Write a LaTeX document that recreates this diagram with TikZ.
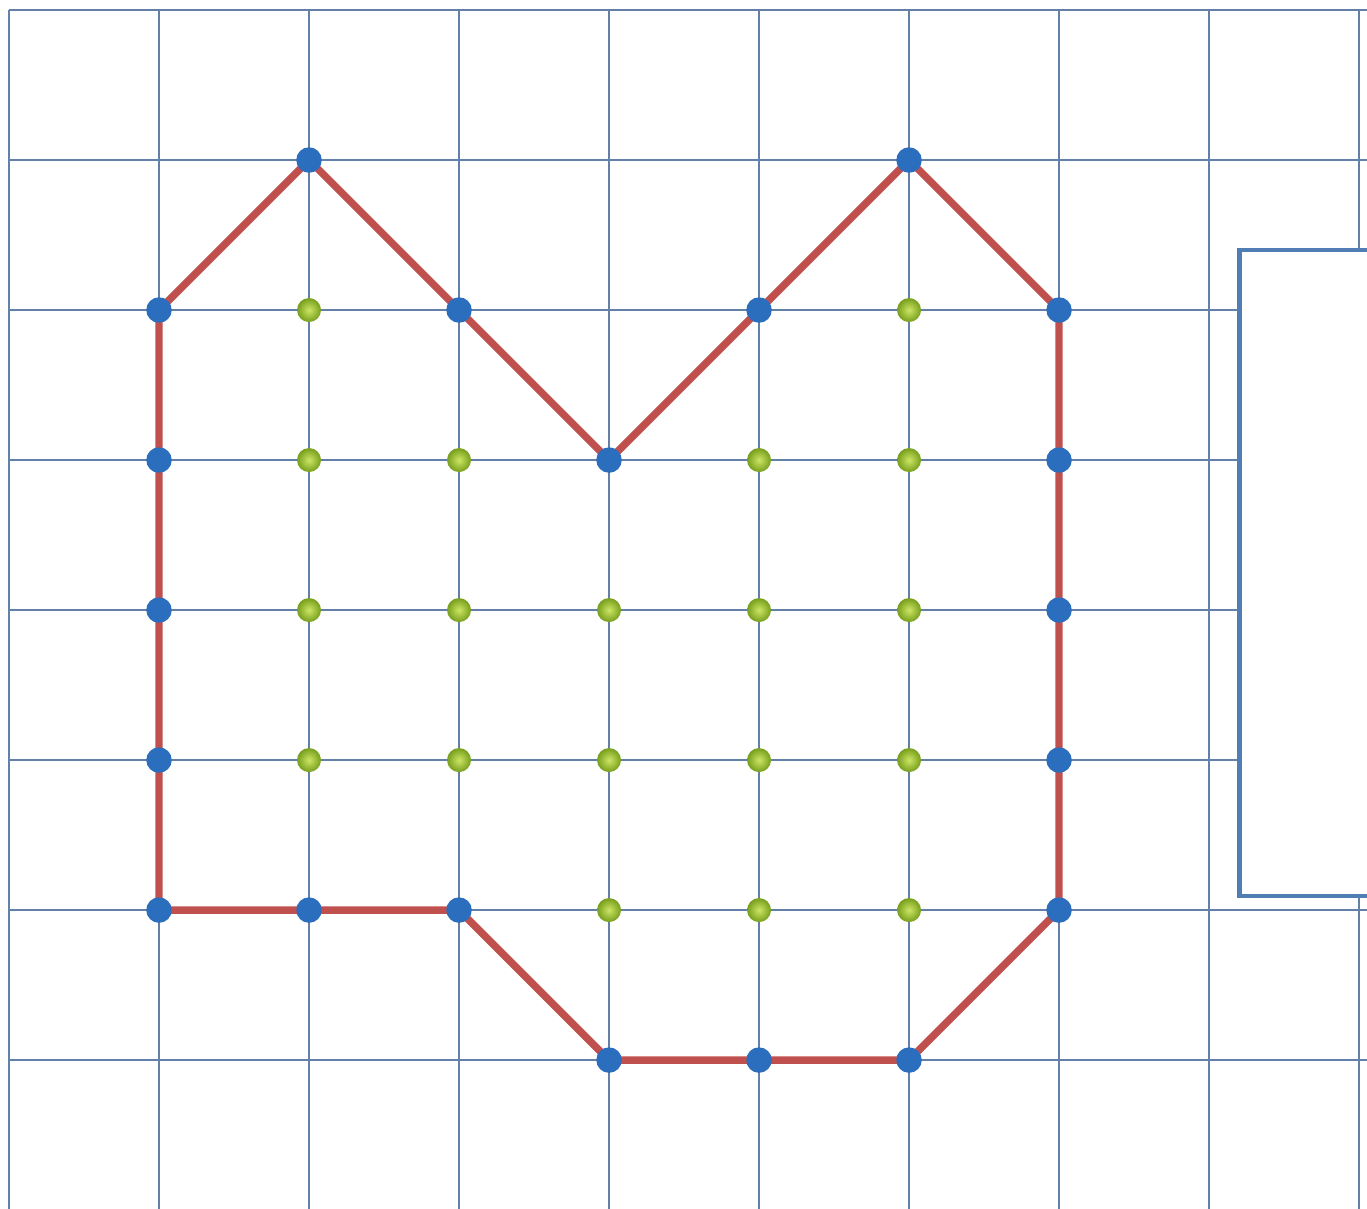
\documentclass[tikz,border=0pt]{standalone}
\definecolor{gridblue}{RGB}{98,128,168}
\definecolor{edgered}{RGB}{192,80,77}
\definecolor{vertblue}{RGB}{44,110,190}
\definecolor{boxblue}{RGB}{79,125,180}
\definecolor{greenlight}{RGB}{205,230,100}
\definecolor{greendark}{RGB}{118,158,28}
\begin{document}
\begin{tikzpicture}[
        gridline/.style={gridblue, line width=0.4pt},
        edge/.style={edgered, line width=1.4pt, line join=round},
        vertice/.style={circle, fill=vertblue, inner sep=0pt, minimum size=1.7mm},
        punto/.style={circle, inner sep=0pt, minimum size=1.6mm, shading=radial,
                      inner color=greenlight, outer color=greendark}
    ]

        % === Cornice ===
        \useasboundingbox (-0.06, 0.013) rectangle (9.053, 8.067);
        \clip (-0.06, 0.013) rectangle (9.053, 8.067);

        % Griglia
        \foreach \x in {0,...,9}
            \draw[gridline] (\x, 8) -- (\x, -0.2);
        \foreach \y in {1,...,8}
            \draw[gridline] (0, \y) -- (9.3, \y);

        % Riquadro a destra
        \draw[boxblue, line width=0.9pt, fill=white] (8.204, 2.093) rectangle (9.4, 6.4);

        % === Poligono ===
        \foreach \x/\y [count=\n] in {2/7, 3/6, 4/5, 5/6, 6/7, 7/6, 7/5, 7/4, 7/3, 7/2,
                                      6/1, 5/1, 4/1, 3/2, 2/2, 1/2, 1/3, 1/4, 1/5, 1/6}
            \coordinate (v\n) at (\x, \y);

        \draw[edge] (v1) \foreach \n in {2,...,20} { -- (v\n) } -- cycle;

        % Punti di bordo
        \foreach \n in {1,...,20}
            \node[vertice] (b\n) at (v\n) {};

        % Punti interni
        \foreach \x/\y in {2/6, 6/6,
                           2/5, 3/5, 5/5, 6/5,
                           2/4, 3/4, 4/4, 5/4, 6/4,
                           2/3, 3/3, 4/3, 5/3, 6/3,
                           4/2, 5/2, 6/2}
            \node[punto] (i\x\y) at (\x, \y) {};

    \end{tikzpicture}
\end{document}
